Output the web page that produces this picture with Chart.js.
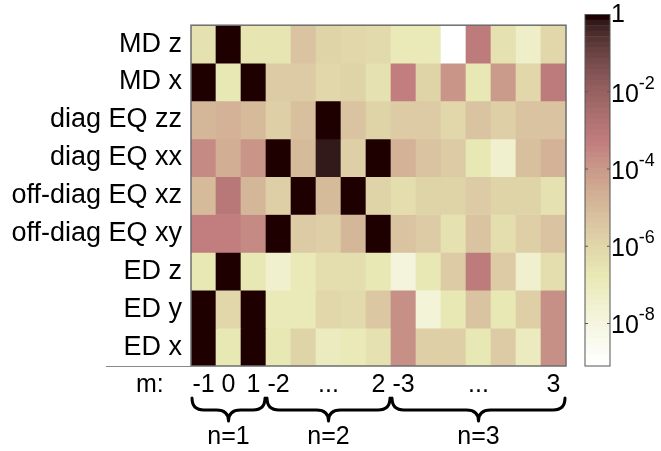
<!DOCTYPE html>
<html>
<head>
<meta charset="utf-8">
<script src="https://cdn.jsdelivr.net/npm/chart.js@4.4.0/dist/chart.umd.min.js"></script>
<style>
  html, body { margin: 0; padding: 0; background: #fff; }
  #wrap { position: relative; width: 661px; height: 451px; }
  #wrap canvas { position: absolute; left: 0; top: 0; }
</style>
</head>
<body>
<div id="wrap">
  <canvas id="heat" width="661" height="451"></canvas>
  <canvas id="cbar" width="661" height="451"></canvas>
</div>
<script>
const rowNames = ["MD z", "MD x", "diag EQ zz", "diag EQ xx", "off-diag EQ xz", "off-diag EQ xy", "ED z", "ED y", "ED x"];
const mLabels = ["-1", "0", "1", "-2", "", "...", "", "2", "-3", "", "", "...", "", "", "3"];
const nGroups = ["n=1", "n=2", "n=3"];
const nSpans = [[0, 2], [3, 7], [8, 14]];

// log10 of each cell, columns left to right
const mdZ    = [-6.5, 0, -6.6, -6.6, -5.3, -5.9, -6.1, -6.2, -6.9, -6.9, -9.1, -3.2, -6.5, -7.3, -6.1];
const mdX    = [0, -6.7, 0, -5.6, -5.6, -6.1, -5.9, -6.5, -3.3, -5.9, -3.9, -6.8, -4.0, -6.1, -3.2];
const diagZZ = [-4.9, -4.7, -5.1, -5.8, -5.2, 0, -5.3, -5.9, -5.6, -5.6, -6.1, -5.3, -5.8, -5.4, -5.4];
const diagXX = [-3.6, -4.6, -3.9, 0, -5.0, -0.2, -5.8, 0, -4.8, -5.4, -5.6, -6.7, -7.4, -5.2, -4.8];
const offXZ  = [-5.1, -3.1, -4.9, -5.8, 0, -5.1, 0, -5.9, -6.3, -5.9, -5.9, -5.6, -5.9, -5.9, -6.4];
const offXY  = [-3.4, -3.4, -3.6, 0, -5.6, -5.8, -4.9, 0, -5.4, -5.6, -6.5, -5.4, -6.3, -5.7, -5.4];
const edZ    = [-6.7, 0, -6.8, -7.4, -6.9, -6.3, -6.3, -6.7, -7.9, -6.8, -5.6, -3.2, -5.6, -7.4, -6.3];
const edY    = [0, -6.0, 0, -6.9, -6.9, -6.0, -6.2, -5.5, -3.75, -7.7, -6.8, -5.4, -6.8, -5.7, -3.75];
const edX    = [0, -6.8, 0, -6.7, -5.9, -7.1, -6.9, -6.4, -3.75, -5.7, -5.7, -6.7, -5.6, -7.0, -3.75];

const cbTicks = [0, -2, -4, -6, -8];
const logMin = -9.1, logMax = 0;

const rows = [mdZ, mdX, diagZZ, diagXX, offXZ, offXY, edZ, edY, edX];
const FONT = '"Liberation Sans", Arial, sans-serif';

// MATLAB pink(64), row k
function pinkRGB(k) {
  const g0 = k / 63;
  const r = Math.min(1, (k + 1) / 24);
  const g = k < 24 ? 0 : Math.min(1, (k - 23) / 24);
  const b = k < 48 ? 0 : (k - 47) / 16;
  const f = h => Math.round(255 * Math.sqrt((2 * g0 + h) / 3));
  return `rgb(${f(r)},${f(g)},${f(b)})`;
}
// flipped colormap, indexed by log10 value
function cellColor(L) {
  const idx = Math.min(63, Math.max(0, Math.floor((L - logMin) / (logMax - logMin) * 64)));
  return pinkRGB(63 - idx);
}

const heatDecor = {
  id: 'heatDecor',
  afterDraw(chart) {
    const { ctx, chartArea: a, scales: { x } } = chart;
    ctx.save();
    ctx.strokeStyle = '#6e6e6e';
    ctx.lineWidth = 1.5;
    ctx.strokeRect(a.left, a.top, a.right - a.left, a.bottom - a.top);
    ctx.lineWidth = 1;
    ctx.strokeStyle = '#8a8a8a';
    ctx.beginPath();
    ctx.moveTo(106, a.bottom + 0.5);
    ctx.lineTo(a.left, a.bottom + 0.5);
    ctx.stroke();

    ctx.fillStyle = '#000';
    ctx.font = '25px ' + FONT;
    ctx.textAlign = 'left';
    ctx.textBaseline = 'alphabetic';
    ctx.fillText('m:', 136, 392);

    const half = (x.getPixelForValue(1) - x.getPixelForValue(0)) / 2;
    ctx.strokeStyle = '#000';
    ctx.lineWidth = 3;
    ctx.lineJoin = 'round';
    ctx.lineCap = 'round';
    nSpans.forEach(([i0, i1], g) => {
      const x0 = x.getPixelForValue(i0) - half + 1;
      const x1 = x.getPixelForValue(i1) + half - 1;
      const xm = (x0 + x1) / 2;
      const yT = 398, yM = 410, yB = 421, r = 12;
      ctx.beginPath();
      ctx.moveTo(x0, yT);
      ctx.quadraticCurveTo(x0, yM, x0 + r, yM);
      ctx.lineTo(xm - r, yM);
      ctx.quadraticCurveTo(xm, yM, xm, yB);
      ctx.quadraticCurveTo(xm, yM, xm + r, yM);
      ctx.lineTo(x1 - r, yM);
      ctx.quadraticCurveTo(x1, yM, x1, yT);
      ctx.stroke();
      ctx.textAlign = 'center';
      ctx.font = '25px ' + FONT;
      ctx.fillText(nGroups[g], xm, 444);
    });
    ctx.restore();
  }
};

new Chart(document.getElementById('heat'), {
  type: 'bar',
  data: {
    labels: mLabels,
    datasets: rows.map((vals, r) => ({
      label: rowNames[r],
      data: vals.map(() => [8 - r, 9 - r]),
      backgroundColor: vals.map(cellColor),
      borderWidth: 0,
      barPercentage: 1,
      categoryPercentage: 1,
      grouped: false,
    })),
  },
  options: {
    responsive: false,
    animation: false,
    events: [],
    layout: { padding: { left: 0, top: 15, right: 95, bottom: 0 } },
    plugins: { legend: { display: false }, tooltip: { enabled: false } },
    scales: {
      x: {
        grid: { display: false, drawTicks: false },
        border: { display: false },
        ticks: { autoSkip: false, maxRotation: 0, padding: 4, color: '#000', font: { size: 25, family: FONT } },
        afterFit(scale) { scale.height = 85; },
      },
      y: {
        min: 0,
        max: 9,
        grid: { display: false, drawTicks: false },
        border: { display: false },
        afterBuildTicks(scale) { scale.ticks = rowNames.map((_, r) => ({ value: 8.5 - r })); },
        ticks: {
          padding: 9,
          color: '#000',
          font: { size: 27, family: FONT },
          callback: v => rowNames[Math.round(8.5 - v)],
        },
        afterFit(scale) { scale.width = 191; },
      },
    },
  },
  plugins: [heatDecor],
});

const cbarDecor = {
  id: 'cbarDecor',
  afterDraw(chart) {
    const { ctx, chartArea: a, scales: { yLog } } = chart;
    ctx.save();
    ctx.strokeStyle = '#555';
    ctx.lineWidth = 1;
    ctx.strokeRect(a.left, a.top, a.right - a.left, a.bottom - a.top);
    ctx.fillStyle = '#000';
    cbTicks.forEach(e => {
      const y = yLog.getPixelForValue(Math.pow(10, e));
      ctx.beginPath();
      ctx.moveTo(a.left, y); ctx.lineTo(a.left + 3, y);
      ctx.moveTo(a.right, y); ctx.lineTo(a.right - 3, y);
      ctx.stroke();
      const lx = a.right + 1;
      ctx.textAlign = 'left';
      ctx.textBaseline = 'middle';
      ctx.font = '25px ' + FONT;
      if (e === 0) { ctx.fillText('1', lx, y + 1); return; }
      ctx.fillText('10', lx, y + 3);
      const w = ctx.measureText('10').width;
      ctx.font = '18px ' + FONT;
      ctx.fillText(String(e), lx + w, y - 8);
    });
    ctx.restore();
  }
};

const bands = Array.from({ length: 64 }, (_, k) => k);
new Chart(document.getElementById('cbar'), {
  type: 'bar',
  data: {
    labels: bands.map(String),
    datasets: [{
      data: bands.map(() => 1),
      backgroundColor: bands.map(pinkRGB),
      borderWidth: 0,
      barPercentage: 1,
      categoryPercentage: 1,
    }],
  },
  options: {
    indexAxis: 'y',
    responsive: false,
    animation: false,
    events: [],
    layout: { padding: { left: 585, top: 14.5, right: 51, bottom: 85 } },
    plugins: { legend: { display: false }, tooltip: { enabled: false } },
    scales: {
      x: { display: false, min: 0, max: 1 },
      y: { display: false },
      yLog: { type: 'logarithmic', position: 'right', display: false, min: Math.pow(10, logMin), max: 1 },
    },
  },
  plugins: [cbarDecor],
});
</script>
</body>
</html>
